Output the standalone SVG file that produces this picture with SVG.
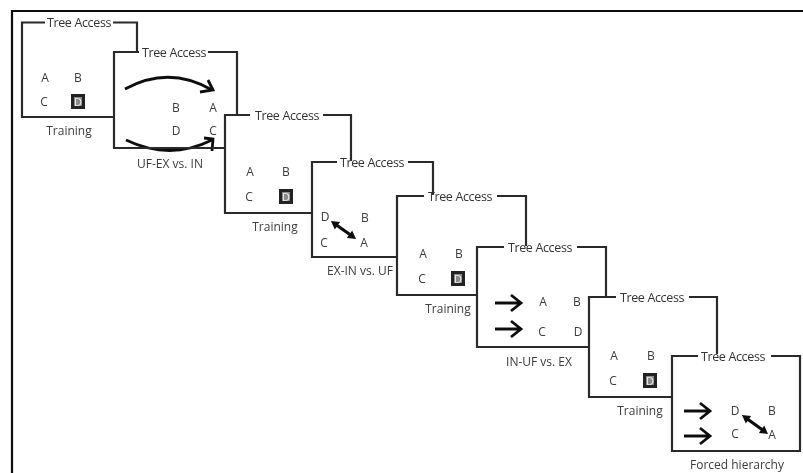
<svg xmlns="http://www.w3.org/2000/svg" width="803" height="473" viewBox="0 0 803 473">
<defs>
<style>
text{font-family:"Open Sans","Noto Sans","Liberation Sans",sans-serif;font-size:12px;fill:#3c3c3c;text-anchor:middle;stroke:none}
.t{font-size:12.5px;letter-spacing:-.35px;fill:#333}
.b{fill:none;stroke:#2a2a2a;stroke-width:2.2}
.a{fill:none;stroke:#111;stroke-width:2.8}
.w{fill:none;stroke:#111;stroke-width:3.2}
.s{fill:#222}
.i{fill:#8a8a8a}
.d{fill:#eee;font-size:11px}
</style>
<filter id="soft" x="-2%" y="-2%" width="104%" height="104%"><feGaussianBlur stdDeviation="0.45"/></filter>
<marker id="head" markerWidth="10" markerHeight="10" refX="4" refY="5" orient="auto-start-reverse" markerUnits="userSpaceOnUse"><path d="M1 .5L9 5L1 9.500z" fill="#111"/></marker>
<path id="arrow" d="M0 0H25M16-8L26 0L16 8" fill="none" stroke="#111" stroke-width="2.8"/>
</defs>
<rect width="803" height="473" fill="#fff"/>
<g filter="url(#soft)">
<path id="frame" d="M12 473V11H803" fill="none" stroke="#111" stroke-width="2.2"/>
<g id="connectors">
<path class="a" d="M125 89Q169 65 212 90"/><path class="a" d="M208 80L213 90L200 92"/>
<path class="a" d="M126 140Q170 161 212 140"/><path class="a" d="M204 138L213 139L212 151"/>
<path class="w" d="M335 224L352 236" marker-start="url(#head)" marker-end="url(#head)"/>
<use href="#arrow" x="495" y="303"/><use href="#arrow" x="495" y="329"/>
<use href="#arrow" x="684" y="411"/><use href="#arrow" x="684" y="436"/>
<path class="w" d="M746 418L764 431" marker-start="url(#head)" marker-end="url(#head)"/>
</g>
<g id="n1"><path class="b" d="M114 117H22V22.500H45M113 22.500H137V52"/><text class="t" x="79" y="27">Tree Access</text><text x="45" y="82">A</text><text x="78" y="82">B</text><text x="44" y="106">C</text><rect class="s" x="71" y="94" width="14" height="15"/><rect class="i" x="74" y="97" width="8" height="9"/><text class="d" x="78" y="106">D</text><text x="69" y="135">Training</text></g>
<g id="n2"><path class="b" d="M139 52H114V148H225M208 52H237V115"/><text class="t" x="174" y="57">Tree Access</text><text x="176" y="112">B</text><text x="213" y="112">A</text><text x="176" y="135">D</text><text x="213" y="135">C</text><text x="170" y="168">UF-EX vs. IN</text></g>
<g id="n3"><path class="b" d="M250 115H225V213H312M323 115H351V161"/><text class="t" x="287" y="120">Tree Access</text><text x="250" y="176">A</text><text x="286" y="176">B</text><text x="249" y="201">C</text><rect class="s" x="279" y="189" width="14" height="15"/><rect class="i" x="282" y="192" width="8" height="9"/><text class="d" x="286" y="201">D</text><text x="275" y="231">Training</text></g>
<g id="n4"><path class="b" d="M337 162H312V257H397M408 162H433V195"/><text class="t" x="372" y="167">Tree Access</text><text x="325" y="221">D</text><text x="365" y="222">B</text><text x="324" y="247">C</text><text x="364" y="247">A</text><text x="360" y="275">EX-IN vs. UF</text></g>
<g id="n5"><path class="b" d="M424 196H397V295H477M497 196H526V246"/><text class="t" x="460" y="201">Tree Access</text><text x="423" y="258">A</text><text x="459" y="258">B</text><text x="422" y="283">C</text><rect class="s" x="451" y="271" width="14" height="15"/><rect class="i" x="454" y="274" width="8" height="9"/><text class="d" x="458" y="283">D</text><text x="448" y="313">Training</text></g>
<g id="n6"><path class="b" d="M504 247H477V347H589M577 247H606V297"/><text class="t" x="540" y="252">Tree Access</text><text x="543" y="306">A</text><text x="577" y="306">B</text><text x="542" y="336">C</text><text x="578" y="336">D</text><text x="539" y="366">IN-UF vs. EX</text></g>
<g id="n7"><path class="b" d="M616 297H589V397H672M689 297H717V354"/><text class="t" x="652" y="302">Tree Access</text><text x="614" y="360">A</text><text x="651" y="360">B</text><text x="613" y="385">C</text><rect class="s" x="643" y="373" width="14" height="15"/><rect class="i" x="646" y="376" width="8" height="9"/><text class="d" x="650" y="385">D</text><text x="640" y="415">Training</text></g>
<g id="n8"><path class="b" d="M698 356H672V451H800V356H771"/><text class="t" x="733" y="361">Tree Access</text><text x="735" y="415">D</text><text x="772" y="415">B</text><text x="735" y="438">C</text><text x="772" y="439">A</text><text x="737" y="469">Forced hierarchy</text></g>
</g>
</svg>
